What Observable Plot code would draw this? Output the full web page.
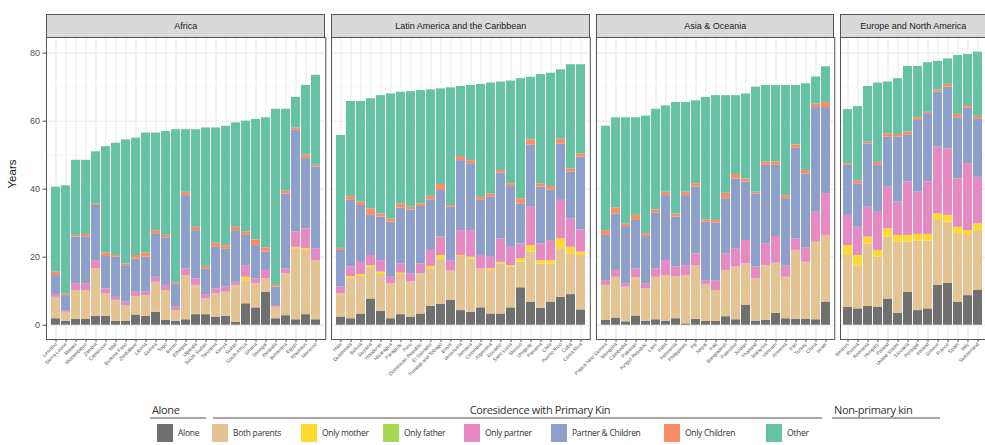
<!DOCTYPE html>
<html><head><meta charset="utf-8">
<script src="https://cdn.jsdelivr.net/npm/d3@7"></script>
<script src="https://cdn.jsdelivr.net/npm/@observablehq/plot@0.6"></script>
<style>
html,body{margin:0;padding:0;background:#fff;}
#wrap{position:relative;width:985px;height:445px;overflow:hidden;font-family:"Liberation Sans",Arial,sans-serif;background:#fff;}
#panels{position:absolute;left:0;top:14px;display:flex;gap:6px;width:1200px;align-items:flex-start;}
.panel{flex:none;}
.strip{box-sizing:border-box;height:23px;background:#d9d9d9;border:1px solid #555;border-bottom:none;font-size:9px;color:#1a1a1a;text-align:center;line-height:22px;white-space:nowrap;overflow:hidden;}
.leg{position:absolute;font-family:"Open Sans","Liberation Sans",sans-serif;color:#333;white-space:nowrap;}
.head{font-size:11px;top:402px;letter-spacing:-0.35px;}
.uline{position:absolute;top:417px;height:2px;background:#a8a8a8;}
.key{position:absolute;top:424px;width:16px;height:18px;}
.lab{font-size:8.5px;top:427px;letter-spacing:-0.3px;}
</style>
</head><body>
<div id="wrap">
  <div id="panels"></div>
  <div id="legend"></div>
</div>
<script>
// ---- categories and colours ----
const categories = ["Alone","Both parents","Only mother","Only father","Only partner","Partner & Children","Only Children","Other"];
const colors = ["#707070","#E5C494","#FFD92F","#A6D854","#E78AC3","#8DA0CB","#FC8D62","#66C2A5"];
const legendGroups = ["Alone","Coresidence with Primary Kin","Non-primary kin"];
const regions = ["Africa","Latin America and the Caribbean","Asia & Oceania","Europe and North America"];
const yTicks = [0,20,40,60,80];
const yMinor = [10,30,50,70];

// ---- Africa ----
const africaCountries = ["Lesotho","Sierra Leone","Malawi","Mozambique","Zambia","Cameroon","Mali","Burkina Faso","Zimbabwe","Liberia","Guinea","Togo","Benin","Ethiopia","Uganda","South Sudan","Tanzania","Kenya","Sudan","South Africa","Ghana","Senegal","Rwanda","Botswana","Egypt","Mauritius","Morocco"];
// rows: Alone, Both parents, Only mother, Only father, Only partner, Partner & Children, Only Children, Other
const africaValues = [
  [1.9,6.3,0,0,0.8,5.6,1.0,25.0],
  [1.1,2.7,0,0,0.5,4.4,0.5,31.8],
  [1.7,8.5,0,0,2.0,13.7,0.5,22.1],
  [1.7,8.5,0,0,2.0,13.8,0.7,21.8],
  [2.6,14.0,0,0,2.4,16.2,0.5,15.3],
  [2.6,6.6,0,0,1.5,9.5,1.0,31.3],
  [1.1,6.2,0,0,0.9,11.8,0.5,33.0],
  [1.2,4.6,0,0,1.0,10.7,0.5,36.5],
  [3.0,5.4,0,0,1.3,9.8,1.0,34.5],
  [2.6,6.1,0,0,1.0,10.3,1.2,35.3],
  [3.8,8.8,0,0,1.5,12.8,0.9,28.7],
  [1.4,8.8,0,0,1.5,14.0,0.7,30.6],
  [1.1,3.2,0,0,1.0,6.9,0.4,44.9],
  [1.6,13.0,0,0,2.0,21.5,1.0,18.4],
  [3.1,8.6,0,0,1.9,14.2,1.0,28.7],
  [3.1,4.6,0,0,1.3,7.6,0.7,40.7],
  [2.4,6.8,0,0,1.5,12.2,1.2,33.9],
  [2.6,7.1,0,0,1.5,11.1,1.1,35.1],
  [0.9,10.8,0,0,0.9,15.2,1.0,30.7],
  [6.3,6.8,1.0,0,3.4,8.9,1.0,32.6],
  [5.1,7.1,0,0,1.4,9.8,1.7,35.4],
  [9.7,3.9,0,0,2.5,5.4,1.2,38.3],
  [1.9,3.4,0,0,0.5,5.4,0.5,51.8],
  [2.8,12.3,0,0,1.5,22.0,0.8,24.1],
  [1.6,20.9,0.4,0,4.5,29.9,0.7,9.0],
  [3.1,18.9,0.5,0,5.8,20.7,1.0,20.5],
  [1.6,17.4,0,0,3.5,24.0,0.5,26.5]
];

// ---- Latin America and the Caribbean ----
const latamCountries = ["Haiti","Guatemala","Bolivia","Guyana","Honduras","Nicaragua","Paraguay","Peru","Dominican Republic","El Salvador","Trinidad and Tobago","Brazil","Venezuela","Jamaica","Colombia","Argentina","Ecuador","Saint Lucia","Mexico","Uruguay","Panama","Chile","Puerto Rico","Cuba","Costa Rica"];
const latamValues = [
  [2.4,6.8,0,0,2.0,10.8,0.6,33.2],
  [1.9,11.9,0.5,0,2.8,19.8,0.9,28.0],
  [3.3,11.0,0.6,0,3.6,16.7,1.0,29.6],
  [7.7,9.2,0.6,0,3.0,11.8,1.9,32.4],
  [4.1,10.8,0.7,0,3.4,12.8,0.9,34.8],
  [1.9,10.3,0,0,1.9,16.2,1.0,36.7],
  [3.1,11.8,0.4,0,2.7,16.5,1.2,32.8],
  [2.4,10.4,0,0,2.3,18.8,0.8,34.0],
  [3.3,11.8,0,0,2.9,16.9,0.8,33.3],
  [5.5,11.1,0.7,0,4.7,14.9,1.0,31.3],
  [6.1,13.4,1.0,0,5.4,13.7,1.8,28.1],
  [7.3,8.6,0,0,3.1,15.7,0.5,34.6],
  [4.3,15.9,0.3,0,7.3,20.6,1.2,20.6],
  [3.8,15.7,0.5,0,7.8,19.7,0.9,22.1],
  [5.1,11.5,0,0,3.9,16.2,0.9,33.2],
  [3.3,12.8,0.5,0,3.4,17.6,1.0,32.6],
  [3.3,14.7,0.5,0,6.9,19.3,0.8,26.0],
  [5.1,12.0,0.4,0,5.4,17.9,0.8,30.2],
  [11.0,7.5,1.0,0,4.4,11.8,1.5,35.3],
  [6.8,14.7,1.9,0,11.3,18.3,1.5,18.4],
  [5.0,13.0,1.0,0,4.9,16.7,1.0,32.1],
  [6.8,11.2,1.0,0,5.9,14.9,1.0,33.3],
  [8.2,14.3,2.9,0,11.3,16.6,1.4,20.4],
  [9.0,12.0,1.9,0,8.4,13.7,1.0,30.6],
  [4.5,16.0,1.0,0,6.5,21.4,1.0,26.2]
];

// ---- Asia & Oceania ----
const asiaCountries = ["Papua New Guinea","Mongolia","Cambodia","Pakistan","Kyrgyz Republic","Laos","India","Indonesia","Philippines","Fiji","Nepal","Iraq","Bangladesh","Palestine","Jordan","Thailand","Malaysia","Vietnam","Armenia","Iran","Turkey","China","Israel"];
const asiaValues = [
  [1.4,10.3,0,0,1.4,13.3,1.4,30.7],
  [2.1,12.0,0,0,2.0,16.6,1.8,26.5],
  [1.0,10.2,0,0,1.0,16.8,0.8,31.2],
  [2.7,11.2,0,0,2.7,14.2,1.5,28.7],
  [1.2,9.5,0,0,1.5,13.9,0.8,34.6],
  [1.6,12.5,0,0,2.5,16.3,1.0,29.6],
  [1.2,13.4,0,0,4.4,19.1,1.0,25.4],
  [1.9,12.4,0,0,2.8,14.7,0.9,32.8],
  [0.4,14.2,0,0,2.9,20.6,1.0,26.4],
  [1.7,15.8,0,0,3.5,19.6,1.0,24.4],
  [1.1,10.9,0,0,1.1,17.2,0.7,36.0],
  [1.1,9.1,0,0,2.9,16.9,0.8,36.7],
  [2.5,13.6,0,0,4.9,16.2,1.6,28.7],
  [1.6,15.5,0,0,5.4,20.5,1.3,23.2],
  [5.8,12.2,0,0,6.9,17.2,0.9,25.0],
  [1.2,12.4,0,0,3.5,21.5,0.5,30.9],
  [1.4,16.1,0,0,6.4,23.1,1.0,22.5],
  [3.5,14.7,0,0,7.9,20.9,1.0,22.5],
  [1.9,12.2,0,0,3.4,19.7,0.9,32.4],
  [1.7,20.3,0,0,3.4,26.6,1.0,17.5],
  [1.7,16.8,0,0,4.2,21.8,1.0,25.5],
  [1.6,22.8,0,0,8.8,30.8,1.0,8.0],
  [6.8,19.6,0,0,12.3,25.3,1.5,10.5]
];

// ---- Europe and North America ----
const europeCountries = ["Belarus","Russia","Romania","Hungary","Poland","United States","Slovakia","Portugal","Ireland","Greece","France","Spain","Italy","Switzerland"];
const europeValues = [
  [5.3,15.2,2.9,0,8.9,14.7,0.5,15.9],
  [4.8,12.7,3.0,0,8.3,12.8,0.9,21.8],
  [5.5,18.4,2.0,0,8.8,18.6,0.5,16.4],
  [5.3,14.7,2.0,0,11.2,13.8,0.9,23.3],
  [7.7,18.2,2.4,0,12.3,14.7,1.0,15.2],
  [3.5,20.9,2.0,0,9.8,19.1,0.8,16.4],
  [9.7,14.7,2.0,0,15.7,13.7,1.0,19.3],
  [4.3,20.4,2.0,0,12.4,21.1,0.8,15.1],
  [4.8,19.9,2.0,0,15.4,20.1,0.4,14.6],
  [11.7,19.1,1.9,0,19.7,16.1,0.7,8.4],
  [12.4,17.9,2.0,0,19.6,18.1,0.8,7.5],
  [6.8,20.1,1.9,0,14.2,18.0,1.0,17.3],
  [8.7,17.7,1.4,0,19.7,16.4,0.7,15.0],
  [10.2,17.6,2.0,0,13.7,17.2,0.7,18.9]
];

const U = 10.27;       // px per bar slot
const ML = 46;         // left margin for y axis
const PANEL_H = 302;

function tidy(countries, values) {
  const out = [];
  countries.forEach((c, i) => categories.forEach((k, j) => out.push({country: c, category: k, value: values[i][j]})));
  return out;
}

function makePanel(name, countries, values, showY) {
  const ml = showY ? ML : 0;
  const pw = (countries.length + 0.2) * U;
  const div = document.createElement("div");
  div.className = "panel";
  const strip = document.createElement("div");
  strip.className = "strip";
  strip.style.marginLeft = ml + "px";
  strip.style.width = pw + "px";
  strip.textContent = name;
  div.appendChild(strip);
  const chart = Plot.plot({
    width: ml + pw,
    height: PANEL_H + 55,
    marginLeft: ml, marginRight: 0, marginTop: 0, marginBottom: 55,
    style: {background: "transparent", fontFamily: "Liberation Sans, Arial, sans-serif", overflow: "visible"},
    x: {type: "band", domain: countries, paddingInner: 0.1, paddingOuter: 0.15, align: 0.5, axis: null},
    y: {domain: [-4.2, 84.6], axis: null},
    color: {domain: categories, range: colors},
    marks: [
      Plot.gridY({ticks: yMinor, stroke: "#f3f3f3", strokeOpacity: 1, strokeWidth: 0.6}),
      Plot.gridY({ticks: yTicks, stroke: "#e8e8e8", strokeOpacity: 1, strokeWidth: 1}),
      Plot.gridX({stroke: "#e8e8e8", strokeOpacity: 1, strokeWidth: 1}),
      Plot.barY(tidy(countries, values), {x: "country", y: "value", fill: "category"}),
      Plot.frame({stroke: "#555", strokeWidth: 1}),
      Plot.axisX({tickRotate: -45, fontSize: 5, tickSize: 3, tickPadding: 1, label: null, color: "#555"}),
      showY ? Plot.axisY({ticks: yTicks, tickSize: 3.5, tickPadding: 3, fontSize: 9, label: null, color: "#4d4d4d"}) : null,
      showY ? Plot.text(["Years"], {frameAnchor: "left", dx: -34, rotate: -90, fontSize: 11.5, fill: "#1a1a1a"}) : null
    ]
  });
  div.appendChild(chart);
  return div;
}

const panels = document.getElementById("panels");
panels.appendChild(makePanel(regions[0], africaCountries, africaValues, true));
panels.appendChild(makePanel(regions[1], latamCountries, latamValues, false));
panels.appendChild(makePanel(regions[2], asiaCountries, asiaValues, false));
panels.appendChild(makePanel(regions[3], europeCountries, europeValues, false));

// ---- legend ----
const legend = document.getElementById("legend");
function add(cls, text, css) {
  const e = document.createElement("div");
  e.className = cls;
  if (text) e.textContent = text;
  Object.assign(e.style, css);
  legend.appendChild(e);
}
add("leg head", legendGroups[0], {left: "152px"});
add("uline", "", {left: "150px", width: "56px"});
add("leg head", legendGroups[1], {left: "440px", width: "200px", textAlign: "center"});
add("uline", "", {left: "213px", width: "609px"});
add("leg head", legendGroups[2], {left: "834px"});
add("uline", "", {left: "832px", width: "108px"});
const keyX = [157, 212, 301, 383, 464, 551, 664, 766];
categories.forEach((c, i) => {
  add("key", "", {left: keyX[i] + "px", background: colors[i]});
  add("leg lab", c, {left: (keyX[i] + 21) + "px"});
});
</script>
</body></html>
